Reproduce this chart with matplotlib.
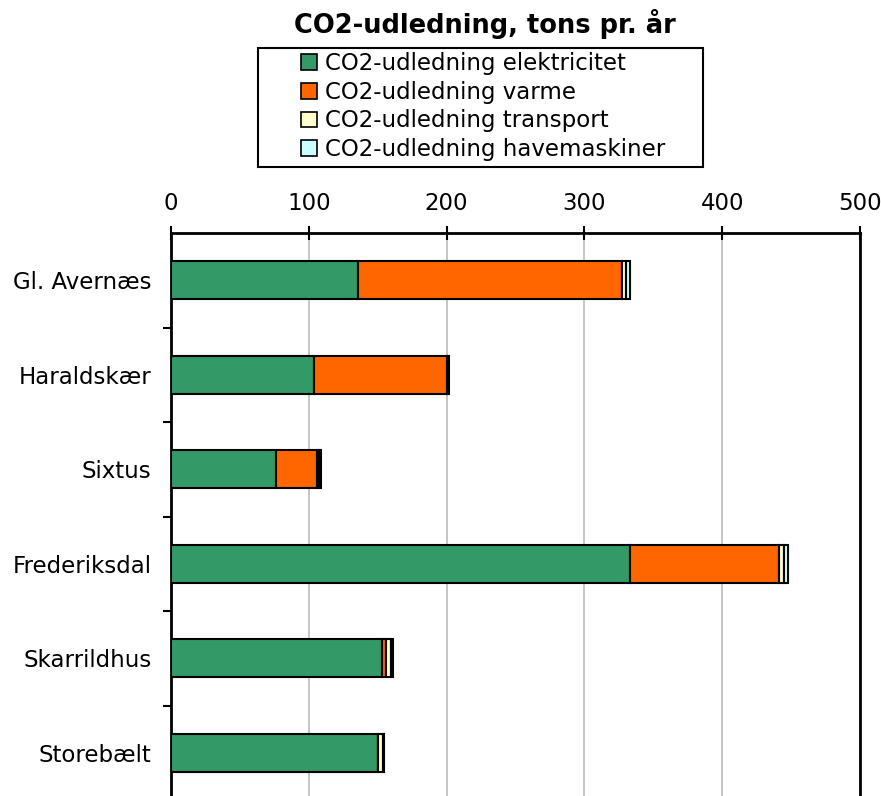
import matplotlib
matplotlib.use("Agg")
import matplotlib.pyplot as plt
from matplotlib.patches import Rectangle
import numpy as np

categories = ["Gl. Avernæs", "Haraldskær", "Sixtus", "Frederiksdal", "Skarrildhus", "Storebælt"]
elektricitet = [136, 104, 76, 333, 153, 150]
varme = [191, 96, 30, 108, 3, 0.5]
transport = [3, 1, 1.5, 3.5, 3.5, 3]
havemaskiner = [3, 1, 1.5, 3, 1.5, 1]
series_names = ["CO2-udledning elektricitet", "CO2-udledning varme",
                "CO2-udledning transport", "CO2-udledning havemaskiner"]
colors = ["#339966", "#FF6600", "#FFFFCC", "#CCFFFF"]
xticks = [0, 100, 200, 300, 400, 500]

plt.rcParams['font.family'] = ['DejaVu Sans']
fs = 16.5
fig = plt.figure(figsize=(8.81, 7.96), dpi=100)
ax = fig.add_axes([171/881, (796-800)/796, 689/881, 567/796])

y = np.arange(len(categories))
left = np.zeros(len(categories))
handles = []
for vals, c, name in zip([elektricitet, varme, transport, havemaskiner], colors, series_names):
    h = ax.barh(y, vals, left=left, height=0.4, color=c, edgecolor="black", linewidth=1.5, label=name, zorder=3)
    handles.append(h)
    left = left + np.array(vals)

ax.set_xlim(0, 500)
ax.set_ylim(len(categories) - 0.5, -0.5)
ax.xaxis.tick_top()
ax.set_xticks(xticks)
ax.set_xticklabels([str(t) for t in xticks], fontsize=fs)
ax.tick_params(axis='x', direction='inout', length=10, width=1.5, pad=8)
ax.set_yticks(y)
ax.set_yticklabels(categories, fontsize=fs)
ax.tick_params(axis='y', which='major', length=0, pad=14)
ax.set_yticks(np.arange(len(categories) - 1) + 0.5, minor=True)
ax.tick_params(axis='y', which='minor', direction='out', length=6, width=1.5)
ax.grid(axis='x', color='#bbbbbb', linewidth=1.2, zorder=0)
for s in ['top', 'left', 'right']:
    ax.spines[s].set_linewidth(2)
ax.spines['bottom'].set_visible(False)

fig.text(485/881, 1 - 24/796, "CO2-udledning, tons pr. år", ha='center', va='center',
         fontsize=18.5, fontweight='bold')
leg = fig.legend(handles=handles, labels=series_names, loc='upper left',
                 bbox_to_anchor=(301/881, 1 - 52/796), fontsize=fs, frameon=False,
                 handlelength=0.68, handleheight=0.68,
                 handletextpad=0.35, borderpad=0, labelspacing=0.25, borderaxespad=0)
for h in leg.legend_handles:
    h.set_linewidth(1.2)
fig.patches.append(Rectangle((258/881, 1 - 167/796), 445/881, 119/796,
                             transform=fig.transFigure, fill=False, lw=1.5, edgecolor='black'))

fig.savefig("out.png", dpi=100)
